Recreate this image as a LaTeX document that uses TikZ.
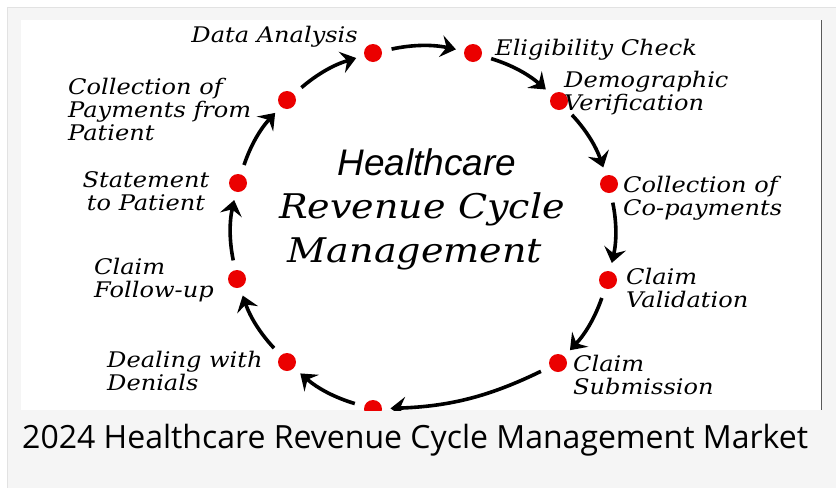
\documentclass[tikz,border=0pt]{standalone}
\usepackage{fontspec}
\usetikzlibrary{arrows.meta}
\newfontfamily\hand[FakeStretch=1.12]{DejaVu Serif}
\newfontfamily\titlefont{Liberation Sans}
\newfontfamily\capfont{Open Sans}
\definecolor{dotred}{RGB}{235,0,0}
\definecolor{pagebg}{RGB}{245,245,245}
\definecolor{edgeline}{RGB}{226,226,226}
\definecolor{imgedge}{RGB}{90,90,90}
\begin{document}
\begin{tikzpicture}[x=1pt,y=-1pt,
  dot/.style={circle,fill=dotred,inner sep=0pt,minimum size=18pt,outer sep=0pt},
  lab/.style={font=\hand\itshape\fontsize{21.5}{23}\selectfont, inner sep=0pt, align=left},
  labc/.style={lab, align=center},
  ttl/.style={font=\hand\itshape\fontsize{34}{40}\selectfont, inner sep=0pt, anchor=base},
  flow/.style={line width=3.6pt, -{Stealth[length=15pt,width=22pt,inset=5.5pt]},
    shorten <=10pt, shorten >=8.5pt, bend left=12},
]
\useasboundingbox (0,0) rectangle (836,488);
\fill[white] (0,0) rectangle (836,488);
\fill[pagebg] (7,7) rectangle (836,488);
\draw[edgeline, line width=1pt] (7.5,488) -- (7.5,7.5) -- (836,7.5);
\fill[white] (21,20) rectangle (821,410);
\draw[imgedge, line width=1pt] (821,20) -- (821,410);

\begin{scope}
\clip (21,20) rectangle (821,410);
\node[dot] (d1) at (373,53) {};
\node[dot] (d2) at (473,53) {};
\node[dot] (d3) at (559,101) {};
\node[dot] (d4) at (609,184) {};
\node[dot] (d5) at (608,280) {};
\node[dot] (d6) at (558,363) {};
\node[dot] (d7) at (373,409) {};
\node[dot] (d8) at (287,362) {};
\node[dot] (d9) at (237,279) {};
\node[dot] (d10) at (238,183) {};
\node[dot] (d11) at (287,100) {};

\draw[flow] (d1) to (d2);
\draw[flow] (d2) to (d3);
\draw[flow] (d3) to (d4);
\draw[flow] (d4) to (d5);
\draw[flow] (d5) to (d6);
\draw[flow] (d6) to (d7);
\draw[flow] (d7) to (d8);
\draw[flow] (d8) to (d9);
\draw[flow] (d9) to (d10);
\draw[flow] (d10) to (d11);
\draw[flow] (d11) to (d1);
\end{scope}

\node[lab, anchor=base east] (l1) at (358,42) {Data Analysis};
\node[lab, anchor=base west] (l2) at (495,55) {Eligibility Check};
\node[lab, anchor=base west] (l3) at (564,110) {Demographic\\Verification};
\node[lab, anchor=base west] (l4) at (623,215) {Collection of\\Co-payments};
\node[lab, anchor=base west] (l5) at (626,307) {Claim\\Validation};
\node[lab, anchor=base west] (l6) at (573,394) {Claim\\Submission};
\node[lab, anchor=base west] (l8) at (107,390) {Dealing with\\Denials};
\node[lab, anchor=base west] (l9) at (94,297) {Claim\\Follow-up};
\node[labc, anchor=base] (l10) at (146,210) {Statement\\to Patient};
\node[lab, anchor=base west] (l11) at (68,140) {Collection of\\Payments from\\Patient};

\node[font=\titlefont\itshape\fontsize{37}{40}\selectfont, inner sep=0pt, anchor=base] (t1) at (427,175) {Healthcare};
\node[ttl] (t2) at (422,218) {Revenue Cycle};
\node[ttl] (t3) at (415,262) {Management};

\node[font=\capfont\fontsize{32}{38}\selectfont, inner sep=0pt, anchor=base west] (cap) at (22,448) {2024 Healthcare Revenue Cycle Management Market};
\end{tikzpicture}
\end{document}
